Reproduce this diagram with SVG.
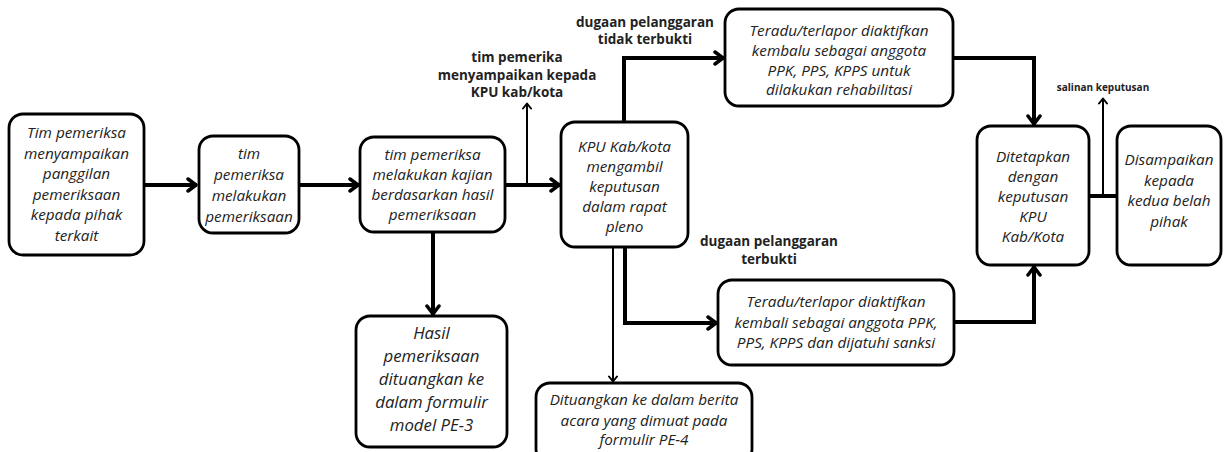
<svg xmlns="http://www.w3.org/2000/svg" width="1229" height="452" viewBox="0 0 1229 452">
<defs>
<style>
.box{fill:#fff;stroke:#000;stroke-width:2.8}
.t{font-family:"Open Sans","Liberation Sans",sans-serif;font-style:italic;font-size:15.3px;fill:#222;text-anchor:middle}
.tb{font-size:16.8px}
.lb{font-family:"Open Sans","Liberation Sans",sans-serif;font-weight:700;font-size:13.5px;fill:#222;text-anchor:middle}
.ls{font-size:10px}
.th{fill:none;stroke:#000;stroke-width:4}
.tn{fill:none;stroke:#000;stroke-width:2}
</style>
<marker id="ah" markerUnits="userSpaceOnUse" markerWidth="14" markerHeight="18" refX="11" refY="8" orient="auto">
<path d="M2,2 L10,8 L2,14" fill="none" stroke="#000" stroke-width="3.5" stroke-linecap="round" stroke-linejoin="round"/>
</marker>
<marker id="as" markerUnits="userSpaceOnUse" markerWidth="10" markerHeight="12" refX="7" refY="5" orient="auto">
<path d="M1.5,1 L6.5,5 L1.5,9" fill="none" stroke="#000" stroke-width="2" stroke-linecap="round" stroke-linejoin="round"/>
</marker>
</defs>
<rect width="1229" height="452" fill="#fff"/>

<g id="connectors">
<path class="th" d="M144,185 H197" marker-end="url(#ah)"/>
<path class="th" d="M299,185 H359" marker-end="url(#ah)"/>
<path class="th" d="M505,185 H560" marker-end="url(#ah)"/>
<path class="th" d="M433,232 V315" marker-end="url(#ah)"/>
<path class="th" d="M624,122 V58 H724" marker-end="url(#ah)"/>
<path class="th" d="M953,58 H1034 V125" marker-end="url(#ah)"/>
<path class="th" d="M625,247 V323 H717" marker-end="url(#ah)"/>
<path class="th" d="M954,322 H1034 V266" marker-end="url(#ah)"/>
<path class="th" d="M1089,196 H1117"/>
<path class="tn" d="M527,185 V103" marker-end="url(#as)"/>
<path class="tn" d="M613,247 V382" marker-end="url(#as)"/>
<path class="tn" d="M1103,196 V98" marker-end="url(#as)"/>
</g>

<g id="lbl-kpu">
<text class="lb" x="517" y="62">tim pemerika</text>
<text class="lb" x="517" y="79.5">menyampaikan kepada</text>
<text class="lb" x="517" y="96.5">KPU kab/kota</text>
</g>
<g id="lbl-tidak">
<text class="lb" x="645" y="26.5">dugaan pelanggaran</text>
<text class="lb" x="645" y="43.5">tidak terbukti</text>
</g>
<g id="lbl-terbukti">
<text class="lb" x="769" y="245.5">dugaan pelanggaran</text>
<text class="lb" x="769" y="263.5">terbukti</text>
</g>
<g id="lbl-salinan">
<text class="lb ls" x="1103" y="90.5">salinan keputusan</text>
</g>

<g id="n1">
<rect class="box" x="9" y="114" width="135" height="141" rx="14"/>
<text class="t" x="76.5" y="138">Tim pemeriksa</text>
<text class="t" x="76.5" y="158.5">menyampaikan</text>
<text class="t" x="76.5" y="179">panggilan</text>
<text class="t" x="76.5" y="199.5">pemeriksaan</text>
<text class="t" x="76.5" y="220">kepada pihak</text>
<text class="t" x="76.5" y="240.5">terkait</text>
</g>
<g id="n2">
<rect class="box" x="199" y="136" width="100" height="97" rx="14"/>
<text class="t" x="249" y="159">tim</text>
<text class="t" x="249" y="180">pemeriksa</text>
<text class="t" x="249" y="201">melakukan</text>
<text class="t" x="249" y="222">pemeriksaan</text>
</g>
<g id="n3">
<rect class="box" x="360" y="137" width="145" height="95" rx="14"/>
<text class="t" x="432.5" y="160">tim pemeriksa</text>
<text class="t" x="432.5" y="180">melakukan kajian</text>
<text class="t" x="432.5" y="200">berdasarkan hasil</text>
<text class="t" x="432.5" y="220">pemeriksaan</text>
</g>
<g id="n4">
<rect class="box" x="356" y="316" width="151" height="131" rx="14"/>
<text class="t tb" x="431.5" y="339">Hasil</text>
<text class="t tb" x="431.5" y="362">pemeriksaan</text>
<text class="t tb" x="431.5" y="385">dituangkan ke</text>
<text class="t tb" x="431.5" y="408">dalam formulir</text>
<text class="t tb" x="431.5" y="431">model PE-3</text>
</g>
<g id="n5">
<rect class="box" x="561" y="122" width="127" height="125" rx="14"/>
<text class="t" x="624.5" y="152">KPU Kab/kota</text>
<text class="t" x="624.5" y="172">mengambil</text>
<text class="t" x="624.5" y="192">keputusan</text>
<text class="t" x="624.5" y="212">dalam rapat</text>
<text class="t" x="624.5" y="232">pleno</text>
</g>
<g id="n6">
<rect class="box" x="725" y="9" width="228" height="97" rx="14"/>
<text class="t" x="839" y="36">Teradu/terlapor diaktifkan</text>
<text class="t" x="839" y="56">kembalu sebagai anggota</text>
<text class="t" x="839" y="75.5">PPK, PPS, KPPS untuk</text>
<text class="t" x="839" y="95">dilakukan rehabilitasi</text>
</g>
<g id="n7">
<rect class="box" x="718" y="280" width="236" height="85" rx="14"/>
<text class="t" x="836" y="307">Teradu/terlapor diaktifkan</text>
<text class="t" x="836" y="328">kembali sebagai anggota PPK,</text>
<text class="t" x="836" y="348">PPS, KPPS dan dijatuhi sanksi</text>
</g>
<g id="n8">
<rect class="box" x="536" y="383" width="216" height="80" rx="14"/>
<text class="t" x="644" y="405">Dituangkan ke dalam berita</text>
<text class="t" x="644" y="426">acara yang dimuat pada</text>
<text class="t" x="644" y="445">formulir PE-4</text>
</g>
<g id="n9">
<rect class="box" x="977" y="126" width="112" height="139" rx="14"/>
<text class="t" x="1033" y="162">Ditetapkan</text>
<text class="t" x="1033" y="182">dengan</text>
<text class="t" x="1033" y="202">keputusan</text>
<text class="t" x="1033" y="222">KPU</text>
<text class="t" x="1033" y="242">Kab/Kota</text>
</g>
<g id="n10">
<rect class="box" x="1117" y="126" width="104" height="139" rx="14"/>
<text class="t" x="1169" y="165">Disampaikan</text>
<text class="t" x="1169" y="185.7">kepada</text>
<text class="t" x="1169" y="206.3">kedua belah</text>
<text class="t" x="1169" y="227">pihak</text>
</g>
</svg>
